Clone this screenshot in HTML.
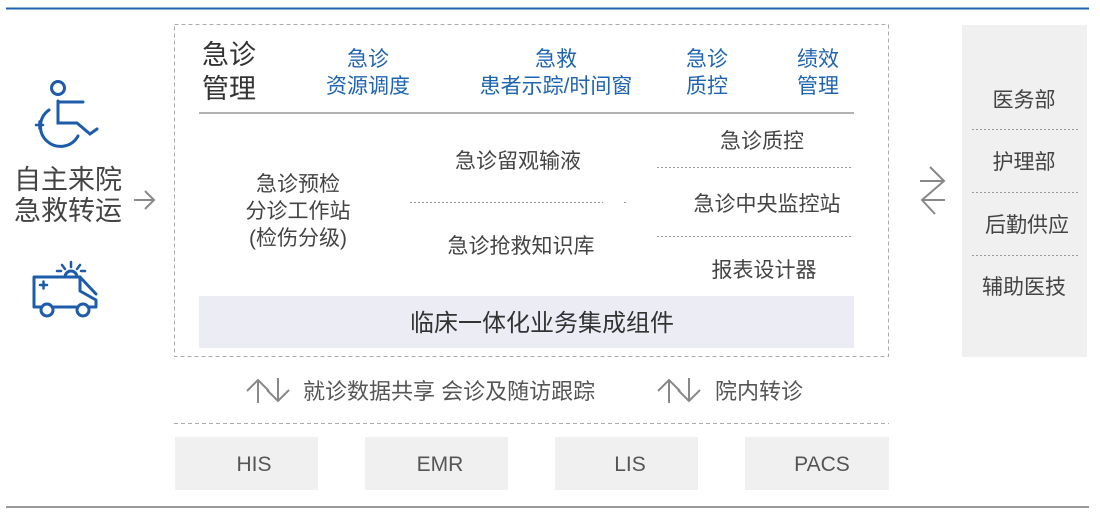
<!DOCTYPE html>
<html><head><meta charset="utf-8"><style>
html,body{margin:0;padding:0;background:#fff;}
svg text{font-family:"Liberation Sans","Noto Sans CJK SC",sans-serif;}
</style></head><body>
<svg width="1100" height="513" viewBox="0 0 1100 513" xmlns="http://www.w3.org/2000/svg">
<line x1="6" y1="8.5" x2="1089" y2="8.5" stroke="#1d63ad" stroke-width="2"/>
<line x1="6" y1="507" x2="1089" y2="507" stroke="#9a9a9a" stroke-width="2"/>

<!-- wheelchair -->
<g fill="none" stroke="#1d5cab" stroke-width="3" stroke-linecap="round">
<circle cx="58" cy="88" r="6.5"/>
<path d="M58 101 V123 H77 L90 134 L97 129"/>
<path d="M58 102 H83"/>
<path d="M49 110 A20 20 0 1 0 78 136"/>
<path d="M36 125 h7 M39.5 121.5 v7" stroke-width="2.5"/>
</g>
<text x="14" y="189" font-size="27" fill="#444">自主来院</text>
<text x="14" y="220" font-size="27" fill="#444">急救转运</text>
<path d="M134 200 H154 M145 191 L154 200 L145 209" fill="none" stroke="#888" stroke-width="2"/>
<!-- ambulance -->
<g fill="none" stroke="#1d5cab" stroke-width="3" stroke-linecap="round" stroke-linejoin="round">
<path d="M34 307 V277 H80 V291 L96 300 V307 H88 M54 307 H76 M41 307 H34"/>
<path d="M80 277 L96 294"/>
<path d="M65 277 A6 6 0 0 1 77 277"/>
<path d="M71 262 v5 M62 265 l3 4 M80 265 l-3 4 M57 271 h4 M85 271 h-4" stroke-width="2.5"/>
<circle cx="47" cy="310" r="6"/><circle cx="83" cy="310" r="6"/>
<path d="M40 285 h7 M43.5 281.5 v7" stroke-width="2.5"/>
</g>

<!-- main dashed box -->
<rect x="174.5" y="24.5" width="714" height="332" fill="none" stroke="#aaa" stroke-dasharray="4 3"/>
<text x="202" y="64" font-size="27" fill="#333">急诊</text>
<text x="202" y="98" font-size="27" fill="#333">管理</text>
<g font-size="21" fill="#1f64b0" text-anchor="middle">
<text x="368" y="66">急诊</text><text x="368" y="93">资源调度</text>
<text x="556" y="66">急救</text><text x="556" y="93">患者示踪/时间窗</text>
<text x="707" y="66">急诊</text><text x="707" y="93">质控</text>
<text x="818" y="66">绩效</text><text x="818" y="93">管理</text>
</g>
<line x1="199" y1="113" x2="854" y2="113" stroke="#999" stroke-width="1.5"/>
<g font-size="21" fill="#444" text-anchor="middle">
<text x="298" y="191">急诊预检</text>
<text x="298" y="218">分诊工作站</text>
<text x="298" y="245">(检伤分级)</text>
<text x="518" y="168">急诊留观输液</text>
<text x="521" y="253">急诊抢救知识库</text>
<text x="762" y="148">急诊质控</text>
<text x="767" y="211">急诊中央监控站</text>
<text x="764" y="277">报表设计器</text>
</g>
<g stroke="#999" stroke-dasharray="2 2">
<line x1="410" y1="202.5" x2="603" y2="202.5"/>
<line x1="624" y1="202.5" x2="626" y2="202.5"/>
<line x1="657" y1="167.5" x2="853" y2="167.5"/>
<line x1="657" y1="236.5" x2="853" y2="236.5"/>
</g>
<rect x="199" y="296" width="655" height="52" fill="#ececf5"/>
<text x="542" y="331" font-size="24" fill="#333" text-anchor="middle">临床一体化业务集成组件</text>

<!-- right -->
<g fill="none" stroke="#888" stroke-width="2">
<path d="M930 167 L944 181 L922 200 L935 214"/>
<path d="M920 181 H944 M922 200 H945"/>
</g>
<rect x="962" y="25" width="125" height="332" fill="#f0f0f0"/>
<g font-size="21" fill="#444" text-anchor="middle">
<text x="1024" y="107">医务部</text>
<text x="1024" y="169">护理部</text>
<text x="1027" y="232">后勤供应</text>
<text x="1024" y="294">辅助医技</text>
</g>
<g stroke="#999" stroke-dasharray="2 2">
<line x1="972" y1="129.5" x2="1078" y2="129.5"/>
<line x1="972" y1="192.5" x2="1078" y2="192.5"/>
<line x1="972" y1="255.5" x2="1078" y2="255.5"/>
</g>

<!-- bottom -->
<g fill="none" stroke="#888" stroke-width="2">
<path d="M258 403 V380 M247 391 L258 380 L269 391"/>
<path d="M278 378 V401 M267 390 L278 401 L289 390"/>
<path d="M669 403 V380 M658 391 L669 380 L680 391"/>
<path d="M689 378 V401 M678 390 L689 401 L700 390"/>
</g>
<text x="303" y="399" font-size="22" fill="#555">就诊数据共享 会诊及随访跟踪</text>
<text x="715" y="399" font-size="22" fill="#555">院内转诊</text>
<line x1="174" y1="423.5" x2="889" y2="423.5" stroke="#aaa" stroke-dasharray="4 3"/>
<g fill="#f0f0f0">
<rect x="175" y="437" width="143" height="53"/>
<rect x="365" y="437" width="143" height="53"/>
<rect x="555" y="437" width="143" height="53"/>
<rect x="745" y="437" width="144" height="53"/>
</g>
<g font-size="21" fill="#555" text-anchor="middle">
<text x="254" y="471">HIS</text>
<text x="440" y="471">EMR</text>
<text x="630" y="471">LIS</text>
<text x="822" y="471">PACS</text>
</g>
</svg>
</body></html>
